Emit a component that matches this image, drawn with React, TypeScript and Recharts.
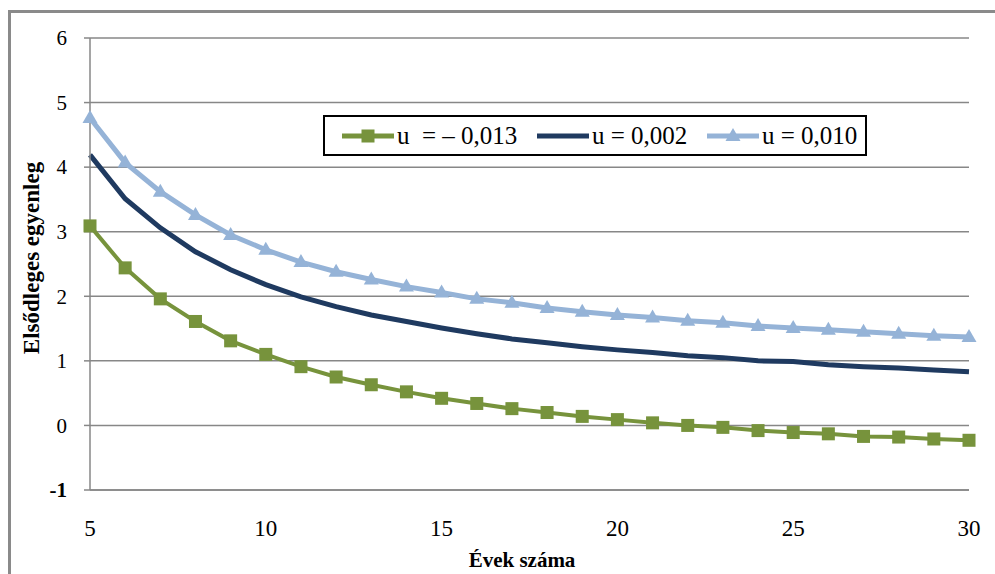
import React from 'react';
import { LineChart, Line, XAxis, YAxis, CartesianGrid, Legend } from 'recharts';

const years = [5, 6, 7, 8, 9, 10, 11, 12, 13, 14, 15, 16, 17, 18, 19, 20, 21, 22, 23, 24, 25, 26, 27, 28, 29, 30];
const seriesNeg = [3.09, 2.44, 1.96, 1.61, 1.31, 1.1, 0.91, 0.75, 0.63, 0.52, 0.42, 0.34, 0.26, 0.2, 0.14, 0.09, 0.04, 0.0, -0.03, -0.08, -0.11, -0.13, -0.17, -0.18, -0.21, -0.23];
const seriesMid = [4.19, 3.51, 3.06, 2.69, 2.41, 2.18, 1.99, 1.84, 1.71, 1.61, 1.51, 1.42, 1.34, 1.28, 1.22, 1.17, 1.13, 1.08, 1.05, 1.0, 0.99, 0.94, 0.91, 0.89, 0.86, 0.83];
const seriesPos = [4.76, 4.07, 3.62, 3.26, 2.95, 2.72, 2.53, 2.38, 2.26, 2.15, 2.06, 1.96, 1.9, 1.82, 1.76, 1.71, 1.67, 1.62, 1.59, 1.54, 1.51, 1.48, 1.45, 1.42, 1.39, 1.37];
const xTicks = [5, 10, 15, 20, 25, 30];
const yTicks = [-1, 0, 1, 2, 3, 4, 5, 6];
const seriesNames = ['u  = – 0,013', 'u = 0,002', 'u = 0,010'];
const xTitle = 'Évek száma';
const yTitle = 'Elsődleges egyenleg';

const data = years.map((y, i) => ({ year: y, a: seriesNeg[i], b: seriesMid[i], c: seriesPos[i] }));

const GREEN = '#77933C';
const NAVY = '#1F3A60';
const LIGHT = '#95B3D7';
const GRID = '#878787';
const FONT = 'Times New Roman, Liberation Serif, Tinos, DejaVu Serif, serif';

const SquareDot = (props: any) => {
  const { cx, cy, index } = props;
  if (cx == null || cy == null) return <g key={index} />;
  return <rect key={index} x={cx - 6.5} y={cy - 6.5} width={13} height={13} fill={GREEN} />;
};

const TriDot = (props: any) => {
  const { cx, cy, index } = props;
  if (cx == null || cy == null) return <g key={index} />;
  return <path key={index} d={`M${cx},${cy - 8} L${cx + 7.5},${cy + 5} L${cx - 7.5},${cy + 5} Z`} fill={LIGHT} />;
};

const YTick = (props: any) => {
  const { x, y, payload } = props;
  const bold = payload.value === -1;
  return (
    <text x={x} y={y} dy="0.35em" textAnchor="end" style={{ fontFamily: FONT }} fontSize={21} fontWeight={bold ? 'bold' : 'normal'} fill="#000">
      {payload.value}
    </text>
  );
};

const XTick = (props: any) => {
  const { x, y, payload } = props;
  return (
    <text x={x} y={y} dy="0.71em" textAnchor="middle" style={{ fontFamily: FONT }} fontSize={23} fill="#000">
      {payload.value}
    </text>
  );
};

const LegendBox = () => {
  const item = (color: string, marker: React.ReactNode, label: string, w: number) => (
    <div style={{ display: 'flex', alignItems: 'center', width: w, flex: 'none' }}>
      <svg width={52} height={20} style={{ flex: 'none' }}>
        <line x1={0} y1={10} x2={52} y2={10} stroke={color} strokeWidth={5} />
        {marker}
      </svg>
      <span style={{ marginLeft: 3, fontFamily: FONT, fontSize: 25, color: '#000', whiteSpace: 'pre' }}>{label}</span>
    </div>
  );
  return (
    <div
      style={{
        position: 'absolute',
        left: 323,
        top: 115,
        width: 523,
        height: 37,
        border: '2px solid #000',
        background: '#fff',
        display: 'flex',
        alignItems: 'center',
        paddingLeft: 17,
        boxSizing: 'content-box',
      }}
    >
      {item(GREEN, <rect x={19.5} y={3.5} width={13} height={13} fill={GREEN} />, seriesNames[0], 195)}
      {item(NAVY, null, seriesNames[1], 170)}
      {item(LIGHT, <path d="M26,2 L33.5,15 L18.5,15 Z" fill={LIGHT} />, seriesNames[2], 155)}
    </div>
  );
};

export default function App() {
  return (
    <div style={{ position: 'absolute', left: 0, top: 0, width: 995, height: 574, overflow: 'hidden', background: '#fff', fontFamily: FONT }}>
      <div
        style={{
          position: 'absolute',
          left: 8,
          top: 10,
          width: 1200,
          height: 800,
          border: '3px solid #8a8a8a',
        }}
      />
      <div style={{ position: 'absolute', left: 0, top: 0 }}>
        <LineChart width={995} height={574} data={data} margin={{ top: 38, right: 26, bottom: 24, left: 0 }} style={{ fontFamily: FONT }}>
          <CartesianGrid vertical={false} stroke={GRID} strokeWidth={1.5} />
          <XAxis
            dataKey="year"
            type="number"
            domain={[5, 30]}
            ticks={xTicks}
            height={60}
            axisLine={{ stroke: GRID, strokeWidth: 1.5 }}
            tickLine={false}
            tickSize={6}
            tickMargin={24}
            tick={<XTick />}
            interval={0}
            label={(p: any) => (
              <text x={522} y={567} textAnchor="middle" style={{ fontFamily: FONT }} fontSize={21} fontWeight="bold" fill="#000">
                {xTitle}
              </text>
            )}
          />
          <YAxis
            type="number"
            domain={[-1, 6]}
            ticks={yTicks}
            width={90}
            axisLine={{ stroke: GRID, strokeWidth: 1.5 }}
            tickLine={{ stroke: GRID, strokeWidth: 1.5 }}
            tickSize={6}
            tickMargin={17}
            tick={<YTick />}
            interval={0}
            label={(p: any) => (
              <text
                x={31}
                y={258}
                transform="rotate(-90 31 258)"
                textAnchor="middle"
                dominantBaseline="central"
                style={{ fontFamily: FONT }}
                fontSize={23}
                fontWeight="bold"
                fill="#000"
              >
                {yTitle}
              </text>
            )}
          />
          <Legend content={() => <LegendBox />} wrapperStyle={{ position: 'absolute', left: 0, top: 0, width: 0, height: 0 }} />
          <Line dataKey="b" name={seriesNames[1]} stroke={NAVY} strokeWidth={5} dot={false} isAnimationActive={false} />
          <Line dataKey="c" name={seriesNames[2]} stroke={LIGHT} strokeWidth={5} dot={<TriDot />} isAnimationActive={false} />
          <Line dataKey="a" name={seriesNames[0]} stroke={GREEN} strokeWidth={4} dot={<SquareDot />} isAnimationActive={false} />
        </LineChart>
      </div>
    </div>
  );
}
